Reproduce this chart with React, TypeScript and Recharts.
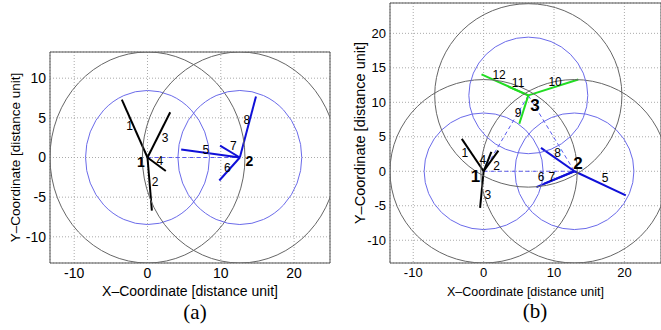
import React from "react";
import {
  ComposedChart,
  XAxis,
  YAxis,
  CartesianGrid,
  Line,
  Scatter,
  ReferenceArea,
} from "recharts";

// ---- panel (a) ----
const nodesA = [
  { name: "1", x: 0, y: 0 },
  { name: "2", x: 12.6, y: 0 },
];
// beam end points, "from" = index of the node the beam starts at
const beamsA = [
  { from: 0, x: -3.5, y: 7.3 },
  { from: 0, x: 0.6, y: -6.7 },
  { from: 0, x: 3.1, y: 5.7 },
  { from: 0, x: 2.5, y: -1.7 },
  { from: 1, x: 4.6, y: 1.0 },
  { from: 1, x: 9.8, y: -2.9 },
  { from: 1, x: 9.9, y: 1.5 },
  { from: 1, x: 14.8, y: 7.7 },
];
const beamLabelsA = [
  { text: "1", x: -2.45, y: 4.0 },
  { text: "2", x: 1.05, y: -3.15 },
  { text: "3", x: 2.4, y: 2.45 },
  { text: "4", x: 1.7, y: -0.4 },
  { text: "5", x: 7.95, y: 0.95 },
  { text: "6", x: 10.9, y: -1.35 },
  { text: "7", x: 11.7, y: 1.4 },
  { text: "8", x: 13.55, y: 4.75 },
];
const nodeLabelsA = [
  { text: "1", x: -0.9, y: -0.6 },
  { text: "2", x: 13.9, y: -0.4 },
];
const linksA = [[0, 1]];
const xTicksA = [-10, 0, 10, 20];
const yTicksA = [-10, -5, 0, 5, 10];

// ---- panel (b) ----
const nodesB = [
  { name: "1", x: 0, y: 0 },
  { name: "2", x: 12.9, y: 0 },
  { name: "3", x: 6.35, y: 11.0 },
];
const beamsB = [
  { from: 0, x: -3.1, y: 4.7 },
  { from: 0, x: 2.1, y: 3.0 },
  { from: 0, x: -0.5, y: -5.3 },
  { from: 0, x: 1.1, y: 2.8 },
  { from: 1, x: 20.2, y: -3.5 },
  { from: 1, x: 7.5, y: -2.3 },
  { from: 1, x: 8.6, y: -1.8 },
  { from: 1, x: 8.15, y: 3.4 },
  { from: 2, x: 5.07, y: 6.9 },
  { from: 2, x: 13.45, y: 13.3 },
  { from: 2, x: 3.5, y: 12.3 },
  { from: 2, x: -0.3, y: 14.05 },
];
const beamLabelsB = [
  { text: "1", x: -2.65, y: 2.65 },
  { text: "2", x: 1.85, y: 0.8 },
  { text: "3", x: 0.6, y: -3.4 },
  { text: "4", x: -0.1, y: 1.6 },
  { text: "5", x: 17.25, y: -0.97 },
  { text: "6", x: 8.15, y: -0.8 },
  { text: "7", x: 9.7, y: -0.8 },
  { text: "8", x: 10.5, y: 2.65 },
  { text: "9", x: 4.9, y: 8.5 },
  { text: "10", x: 10.15, y: 13.0 },
  { text: "11", x: 4.9, y: 12.75 },
  { text: "12", x: 2.2, y: 13.9 },
];
const nodeLabelsB = [
  { text: "1", x: -1.15, y: -0.8 },
  { text: "2", x: 13.4, y: 1.1 },
  { text: "3", x: 7.3, y: 9.5 },
];
const linksB = [
  [0, 1],
  [0, 2],
  [2, 1],
];
const xTicksB = [-10, 0, 10, 20];
const yTicksB = [-10, -5, 0, 5, 10, 15, 20];

const OUTER_R = 13.3;
const INNER_R = 8.45;

const BEAM_COLORS = ["#000000", "#1010d8", "#22dd22"];
const LINK_COLOR = "#5a5af0";
const FONT = "'Liberation Sans', Arial, sans-serif";

interface PanelProps {
  left: number;
  width: number;
  height: number;
  margin: { top: number; right: number; bottom: number; left: number };
  yAxisWidth: number;
  xAxisHeight: number;
  xDomain: [number, number];
  yDomain: [number, number];
  xTicks: number[];
  yTicks: number[];
  tickSize: number;
  xLabelSize: number;
  yLabelSize: number;
  yLabelOffset: number;
  numSize: number;
  nodeSize: number;
  nodes: { name: string; x: number; y: number }[];
  beams: { from: number; x: number; y: number }[];
  beamLabels: { text: string; x: number; y: number }[];
  nodeLabels: { text: string; x: number; y: number }[];
  links: number[][];
}

function Panel(p: PanelProps) {
  const plotW = p.width - p.margin.left - p.margin.right - p.yAxisWidth;
  const plotH = p.height - p.margin.top - p.margin.bottom - p.xAxisHeight;
  const sx = plotW / (p.xDomain[1] - p.xDomain[0]);
  const sy = plotH / (p.yDomain[1] - p.yDomain[0]);

  const circles = p.nodes.flatMap((n) => [
    { x: n.x, y: n.y, r: OUTER_R, c: "#666666" },
    { x: n.x, y: n.y, r: INNER_R, c: "#6b6bea" },
  ]);

  const circleShape = (s: any) => (
    <ellipse
      cx={s.cx}
      cy={s.cy}
      rx={s.payload.r * sx}
      ry={s.payload.r * sy}
      fill="none"
      stroke={s.payload.c}
      strokeWidth={1}
    />
  );

  const textShape = (size: number, bold: boolean) => (s: any) => (
    <text
      x={s.cx}
      y={s.cy}
      textAnchor="middle"
      dominantBaseline="central"
      fontSize={size}
      fontWeight={bold ? "bold" : "normal"}
      fontFamily={FONT}
      fill="#000"
    >
      {s.payload.text}
    </text>
  );

  return (
    <div style={{ position: "absolute", left: p.left, top: 0 }}>
      <ComposedChart
        width={p.width}
        height={p.height}
        margin={p.margin}
        style={{ fontFamily: FONT }}
      >
        <CartesianGrid stroke="#aaaaaa" strokeDasharray="1 2" />
        <XAxis
          type="number"
          dataKey="x"
          domain={p.xDomain}
          ticks={p.xTicks}
          allowDataOverflow
          height={p.xAxisHeight}
          axisLine={false}
          tickLine={false}
          tickSize={0}
          tickMargin={5}
          tick={{ fontSize: p.tickSize, fill: "#000" }}
          label={{
            value: "X\u2013Coordinate [distance unit]",
            position: "insideBottom",
            offset: 4,
            style: { fontSize: p.xLabelSize, fill: "#000" },
          }}
        />
        <YAxis
          type="number"
          dataKey="y"
          domain={p.yDomain}
          ticks={p.yTicks}
          allowDataOverflow
          width={p.yAxisWidth}
          axisLine={false}
          tickLine={false}
          tickSize={0}
          tickMargin={4}
          tick={{ fontSize: p.tickSize, fill: "#000" }}
          label={{
            value: "Y\u2013Coordinate [distance unit]",
            angle: -90,
            position: "insideLeft",
            offset: p.yLabelOffset,
            style: { fontSize: p.yLabelSize, fill: "#000", textAnchor: "middle" },
          }}
        />
        <ReferenceArea
          x1={p.xDomain[0]}
          x2={p.xDomain[1]}
          y1={p.yDomain[0]}
          y2={p.yDomain[1]}
          fill="none"
          fillOpacity={0}
          stroke="#555555"
          strokeWidth={1}
        />
        <Scatter
          data={circles}
          dataKey="y"
          shape={circleShape}
          isAnimationActive={false}
        />
        {p.links.map(([a, b], i) => (
          <Line
            key={`link-${i}`}
            data={[p.nodes[a], p.nodes[b]]}
            dataKey="y"
            type="linear"
            stroke={LINK_COLOR}
            strokeWidth={1}
            strokeDasharray="4 3"
            dot={false}
            activeDot={false}
            isAnimationActive={false}
          />
        ))}
        {p.beams.map((b, i) => (
          <Line
            key={`beam-${i}`}
            data={[p.nodes[b.from], { x: b.x, y: b.y }]}
            dataKey="y"
            type="linear"
            stroke={BEAM_COLORS[b.from]}
            strokeWidth={2}
            dot={false}
            activeDot={false}
            isAnimationActive={false}
          />
        ))}
        <Scatter
          data={p.beamLabels}
          dataKey="y"
          shape={textShape(p.numSize, false)}
          isAnimationActive={false}
        />
        <Scatter
          data={p.nodeLabels}
          dataKey="y"
          shape={textShape(p.nodeSize, true)}
          isAnimationActive={false}
        />
      </ComposedChart>
    </div>
  );
}

export default function App() {
  return (
    <div
      style={{
        position: "absolute",
        left: 0,
        top: 0,
        width: 661,
        height: 330,
        background: "#fff",
        overflow: "hidden",
      }}
    >
      <Panel
        left={0}
        width={331}
        height={300}
        margin={{ top: 52, right: 1, bottom: 0, left: 0 }}
        yAxisWidth={50}
        xAxisHeight={37}
        xDomain={[-13.3, 24.9]}
        yDomain={[-13.3, 13.3]}
        xTicks={xTicksA}
        yTicks={yTicksA}
        tickSize={14}
        xLabelSize={14}
        yLabelSize={13.5}
        yLabelOffset={15}
        numSize={12}
        nodeSize={14}
        nodes={nodesA}
        beams={beamsA}
        beamLabels={beamLabelsA}
        nodeLabels={nodeLabelsA}
        links={linksA}
      />
      <Panel
        left={330}
        width={331}
        height={300}
        margin={{ top: 3, right: 0, bottom: 0, left: 0 }}
        yAxisWidth={60}
        xAxisHeight={37}
        xDomain={[-13.3, 25.2]}
        yDomain={[-13.3, 24.4]}
        xTicks={xTicksB}
        yTicks={yTicksB}
        tickSize={13}
        xLabelSize={12.5}
        yLabelSize={14.5}
        yLabelOffset={30}
        numSize={12}
        nodeSize={17}
        nodes={nodesB}
        beams={beamsB}
        beamLabels={beamLabelsB}
        nodeLabels={nodeLabelsB}
        links={linksB}
      />
      <div
        style={{
          position: "absolute",
          left: 195,
          top: 312,
          transform: "translate(-50%, -50%)",
          fontFamily: "'Liberation Serif', 'Times New Roman', serif",
          fontSize: 21,
        }}
      >
        (a)
      </div>
      <div
        style={{
          position: "absolute",
          left: 535,
          top: 311,
          transform: "translate(-50%, -50%)",
          fontFamily: "'Liberation Serif', 'Times New Roman', serif",
          fontSize: 21,
        }}
      >
        (b)
      </div>
    </div>
  );
}
